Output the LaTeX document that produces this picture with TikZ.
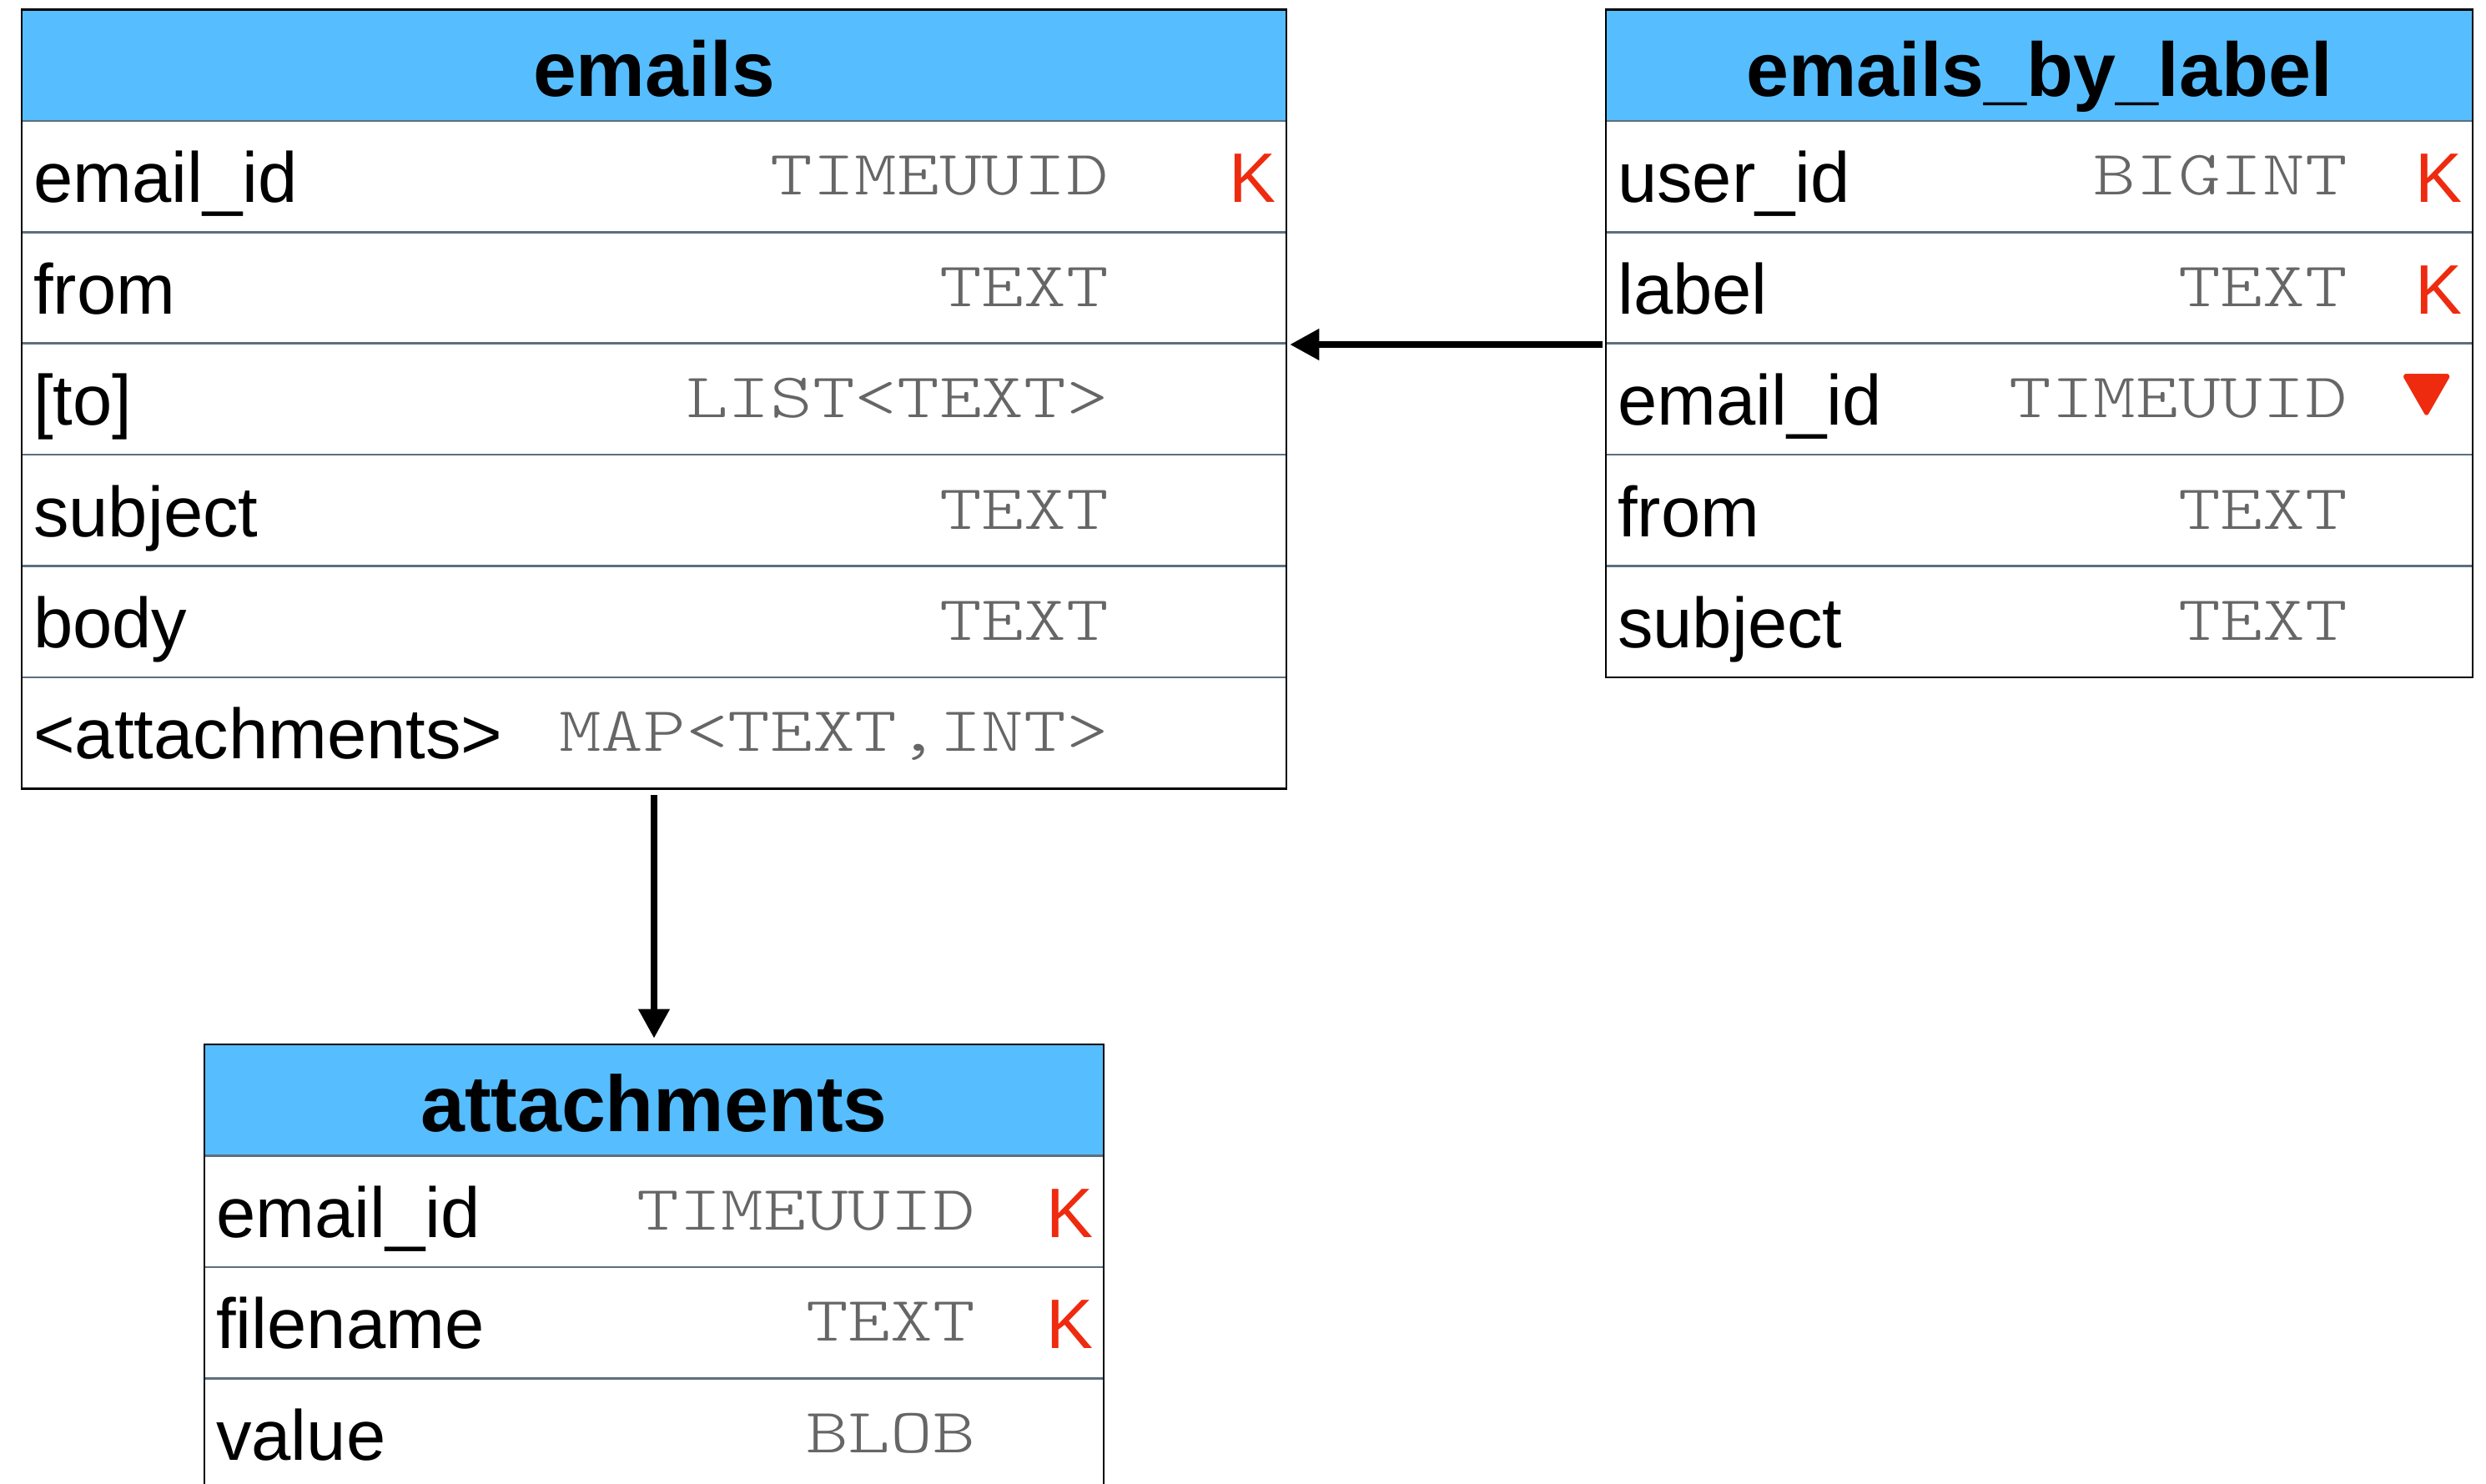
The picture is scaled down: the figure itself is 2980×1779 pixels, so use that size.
\documentclass[tikz,border=0pt]{standalone}
\usepackage{fontspec}
\setmainfont{Liberation Sans}
\newfontfamily\typefont[FakeStretch=1.27]{Latin Modern Mono Light}
\newfontfamily\emojifont{Noto Emoji}
\usetikzlibrary{arrows.meta}
\definecolor{hdrblue}{HTML}{56BDFF}
\definecolor{sepline}{HTML}{5C6F7F}
\definecolor{typegray}{HTML}{666666}
\definecolor{keyred}{HTML}{EE2A0F}
\tikzset{
  x=1pt,y=-1pt,
  hdrbox/.style={draw=black,line width=2.6pt,fill=hdrblue,inner sep=0pt},
  rowbox/.style={draw=sepline,line width=2.6pt,inner sep=0pt},
  outerbox/.style={draw=black,line width=2.8pt,inner sep=0pt},
  titletext/.style={anchor=base,inner sep=0pt,font=\bfseries},
  fieldtext/.style={anchor=base west,inner sep=0pt,font=\fontsize{85}{90}\selectfont},
  typetext/.style={anchor=base east,inner sep=0pt,text=typegray,font=\fontsize{76}{80}\typefont},
  keytext/.style={anchor=base east,inner sep=0pt,text=keyred,font=\fontsize{84}{90}\selectfont},
  markertext/.style={anchor=center,inner sep=0pt,text=keyred,font=\fontsize{94}{100}\emojifont},
  relation/.style={draw=black,line width=7.5pt,-{Triangle[length=35pt,width=36pt]}},
}
% #1 name, #2 left, #3 right, #4 top, #5 title, #6 type-column right edge, #7 title size
\newcommand\tablehead[7]{%
  \pgfmathsetmacro\tabL{#2}\pgfmathsetmacro\tabR{#3}\pgfmathsetmacro\tabT{#4}%
  \pgfmathsetmacro\tabW{#3-#2}\pgfmathsetmacro\tabC{(#2+#3)/2}%
  \xdef\typeR{#6}%
  \node[hdrbox,minimum width=\tabW pt,minimum height=133.4pt] (#1-head) at (\tabC,\tabT+66.7) {};
  \node[titletext] (#1-title) at (\tabC,\tabT+104) {\fontsize{#7}{100}\selectfont #5};
}
% #1 table, #2 row index, #3 field, #4 type, #5 key
\newcommand\tablerow[5]{%
  \pgfmathsetmacro\rowT{\tabT+133.4*#2}%
  \node[rowbox,minimum width=\tabW pt,minimum height=133.4pt] (#1-r#2) at (\tabC,\rowT+66.7) {};
  \node[fieldtext] (#1-f#2) at (\tabL+14,\rowT+98) {#3};
  \node[typetext] (#1-t#2) at (\typeR,\rowT+89) {#4};
  #5%
}
\newcommand\keymark[3]{\node[keytext] (#1-k#2) at (\tabR-12,\tabT+133.4*#2+98) {K};}
\begin{document}
\begin{tikzpicture}
\useasboundingbox (0,0) rectangle (2980,1779);
\clip (0,0) rectangle (2980,1779);

\tablehead{em}{26}{1542}{11.5}{emails}{1329}{93}
\tablerow{em}{1}{email\_id}{TIMEUUID}{\keymark{em}{1}{}}
\tablerow{em}{2}{from}{TEXT}{}
\tablerow{em}{3}{[to]}{LIST<TEXT>}{}
\tablerow{em}{4}{subject}{TEXT}{}
\tablerow{em}{5}{body}{TEXT}{}
\tablerow{em}{6}{<attachments>}{MAP<TEXT,INT>}{}
\node[outerbox,minimum width=1516pt,minimum height=933.8pt] (emails) at (784,478.4) {};

\tablehead{by}{1925}{2964}{11.5}{emails\_by\_label}{2814}{91.5}
\tablerow{by}{1}{user\_id}{BIGINT}{\keymark{by}{1}{}}
\tablerow{by}{2}{label}{TEXT}{\keymark{by}{2}{}}
\tablerow{by}{3}{email\_id}{TIMEUUID}{\node[markertext] (by-m3) at (2909,477) {🔻};}
\tablerow{by}{4}{from}{TEXT}{}
\tablerow{by}{5}{subject}{TEXT}{}
\node[outerbox,minimum width=1039pt,minimum height=800.4pt] (emailsbylabel) at (2444.5,411.7) {};

\tablehead{at}{245}{1323}{1252}{attachments}{1169}{95}
\tablerow{at}{1}{email\_id}{TIMEUUID}{\keymark{at}{1}{}}
\tablerow{at}{2}{filename}{TEXT}{\keymark{at}{2}{}}
\tablerow{at}{3}{value}{BLOB}{}
\node[outerbox,minimum width=1078pt,minimum height=533.6pt] (attachments) at (784,1518.8) {};

\draw[relation,shorten <=3pt,shorten >=3pt] (by-r2.south west) -- (em-r2.south east);
\draw[relation,shorten <=6pt,shorten >=6pt] (emails.south) -- (attachments.north);
\end{tikzpicture}
\end{document}
